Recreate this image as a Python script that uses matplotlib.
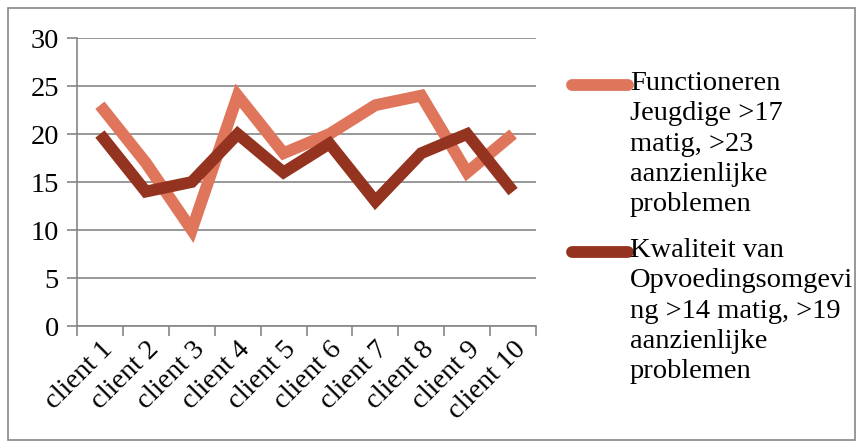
import matplotlib
matplotlib.use("Agg")
import matplotlib.pyplot as plt
from matplotlib.lines import Line2D
from matplotlib.patches import Rectangle

categories = ["client 1", "client 2", "client 3", "client 4", "client 5",
              "client 6", "client 7", "client 8", "client 9", "client 10"]
functioneren = [23, 17, 10, 24, 18, 20, 23, 24, 16, 20]
kwaliteit = [20, 14, 15, 20, 16, 19, 13, 18, 20, 14]
labels = ["Functioneren\nJeugdige >17\nmatig, >23\naanzienlijke\nproblemen",
          "Kwaliteit van\nOpvoedingsomgevi\nng >14 matig, >19\naanzienlijke\nproblemen"]
yticks = [0, 5, 10, 15, 20, 25, 30]

c_light = "#DF765C"
c_dark = "#94331F"
gray = "#868686"
fs = 20.5

plt.rcParams['font.family'] = ['Liberation Serif', 'DejaVu Serif']

fig = plt.figure(figsize=(8.64, 4.46), dpi=100)
fig.add_artist(Rectangle((8/864, 1-440/446), 847/864, 432/446, transform=fig.transFigure,
                         fill=False, edgecolor=gray, linewidth=1.2))

ax = fig.add_axes([77/864, 1-326/446, 459/864, 288/446])
x = list(range(len(categories)))
ax.plot(x, functioneren, color=c_light, linewidth=8.5, solid_joinstyle='miter', solid_capstyle='butt')
ax.plot(x, kwaliteit, color=c_dark, linewidth=8.5, solid_joinstyle='miter', solid_capstyle='butt')

ax.set_xlim(-0.5, len(categories) - 0.5)
ax.set_ylim(0, 30)
ax.set_yticks(yticks)
ax.set_yticklabels([str(v) for v in yticks], fontsize=fs)
ax.yaxis.grid(True, color=gray, linewidth=1.2)
ax.set_axisbelow(True)
for s in ['top', 'right']:
    ax.spines[s].set_visible(False)
for s in ['left', 'bottom']:
    ax.spines[s].set_color(gray)
    ax.spines[s].set_linewidth(1.2)
ax.tick_params(axis='y', length=7, color=gray, width=1.2, pad=6)

ax.set_xticks([i - 0.5 for i in range(len(categories) + 1)])
ax.set_xticklabels([])
ax.tick_params(axis='x', which='major', length=7, color=gray, width=1.2)
ax.set_xticks(x, minor=True)
ax.set_xticklabels(categories, minor=True, rotation=45, ha='right', va='top',
                   rotation_mode='anchor', fontsize=fs)
ax.tick_params(axis='x', which='minor', length=0, pad=8)

# legend
for i, (lab, col) in enumerate(zip(labels, [c_light, c_dark])):
    ytop = [85, 252][i]
    fig.add_artist(Line2D([572/864, 628/864], [1-ytop/446, 1-ytop/446], transform=fig.transFigure,
                          color=col, linewidth=8.5, solid_capstyle='round'))
    fig.text(630/864, 1-(ytop-14)/446, lab, fontsize=fs, va='top', ha='left', linespacing=1.28)

fig.savefig("out.png", dpi=100)
